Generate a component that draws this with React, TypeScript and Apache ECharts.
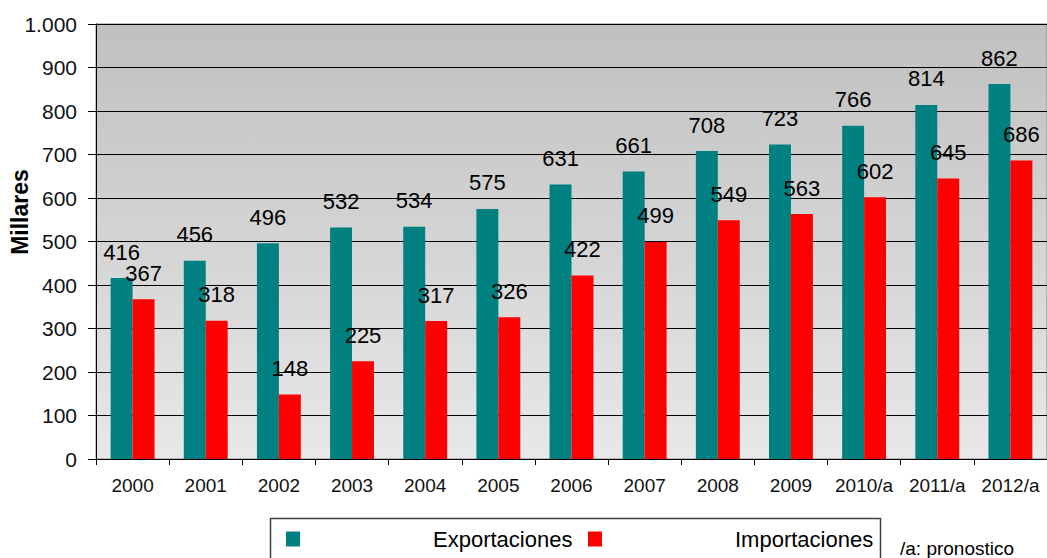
import React, { useEffect, useRef } from 'react';
import * as echarts from 'echarts';

const years = ['2000', '2001', '2002', '2003', '2004', '2005', '2006', '2007', '2008', '2009', '2010/a', '2011/a', '2012/a'];
const exportaciones = [416, 456, 496, 532, 534, 575, 631, 661, 708, 723, 766, 814, 862];
const importaciones = [367, 318, 148, 225, 317, 326, 422, 499, 549, 563, 602, 645, 686];
const yAxisTitle = 'Millares';
const footnote = '/a: pronostico';

const FONT = '"Liberation Sans", Arial, sans-serif';

export default function App() {
  const ref = useRef<HTMLDivElement>(null);

  useEffect(() => {
    if (!ref.current) return;
    const chart = echarts.init(ref.current, undefined, { renderer: 'svg' });
    const labelStyle = {
      show: true,
      position: 'top' as const,
      distance: 15,
      fontSize: 22,
      color: '#000',
      fontFamily: FONT,
    };
    chart.setOption({
      animation: false,
      backgroundColor: '#fff',
      textStyle: { fontFamily: FONT },
      grid: {
        left: 96,
        right: 0,
        top: 24,
        bottom: 99,
        show: true,
        borderColor: '#888',
        borderWidth: 1,
        backgroundColor: new echarts.graphic.LinearGradient(0, 0, 0, 1, [
          { offset: 0, color: '#c0c0c0' },
          { offset: 1, color: '#e8e8e8' },
        ]),
      },
      xAxis: {
        type: 'category',
        data: years,
        axisLine: { show: true, lineStyle: { color: '#000', width: 1 } },
        axisTick: { show: true, length: 6, lineStyle: { color: '#000' } },
        axisLabel: { fontSize: 19, color: '#111', margin: 17, fontFamily: FONT, interval: 0 },
      },
      yAxis: {
        type: 'value',
        min: 0,
        max: 1000,
        interval: 100,
        axisLine: { show: true, lineStyle: { color: '#000', width: 1 } },
        axisTick: { show: true, length: 8, lineStyle: { color: '#000' } },
        splitLine: { show: true, lineStyle: { color: '#000', width: 1 } },
        axisLabel: {
          fontSize: 21,
          color: '#111',
          margin: 19,
          fontFamily: FONT,
          formatter: (v: number) => (v >= 1000 ? v.toLocaleString('de-DE') : String(v)),
        },
      },
      legend: [
        {
          data: ['Exportaciones'],
          left: 281,
          top: 523,
          icon: 'rect',
          itemWidth: 14,
          itemHeight: 15,
          itemGap: 0,
          textStyle: { fontSize: 22, color: '#000', fontFamily: FONT, padding: [0, 0, 0, 128] },
        },
        {
          data: ['Importaciones'],
          left: 583,
          top: 523,
          icon: 'rect',
          itemWidth: 14,
          itemHeight: 15,
          itemGap: 0,
          textStyle: { fontSize: 22, color: '#000', fontFamily: FONT, padding: [0, 0, 0, 128] },
        },
      ],
      graphic: [
        {
          type: 'rect',
          shape: { x: 270.5, y: 518.5, width: 610, height: 60 },
          style: { fill: 'transparent', stroke: '#404040', lineWidth: 1.5 },
          z: 0,
        },
        {
          type: 'text',
          x: 20,
          y: 212,
          rotation: Math.PI / 2,
          style: {
            text: yAxisTitle,
            fontSize: 23,
            fontWeight: 'bold',
            fontFamily: FONT,
            fill: '#000',
            align: 'center',
            verticalAlign: 'middle',
          },
        },
        {
          type: 'text',
          x: 900,
          y: 548,
          style: {
            text: footnote,
            fontSize: 19,
            fontFamily: FONT,
            fill: '#000',
            align: 'left',
            verticalAlign: 'middle',
          },
        },
      ],
      series: [
        {
          name: 'Exportaciones',
          type: 'bar',
          data: exportaciones,
          itemStyle: { color: '#008080' },
          barGap: '0%',
          barCategoryGap: '40%',
          label: labelStyle,
        },
        {
          name: 'Importaciones',
          type: 'bar',
          data: importaciones,
          itemStyle: { color: '#ff0000' },
          barGap: '0%',
          barCategoryGap: '40%',
          label: labelStyle,
        },
      ],
    });
    return () => chart.dispose();
  }, []);

  return (
    <div
      ref={ref}
      style={{ position: 'absolute', left: 0, top: 0, width: 1047, height: 558 }}
    />
  );
}
